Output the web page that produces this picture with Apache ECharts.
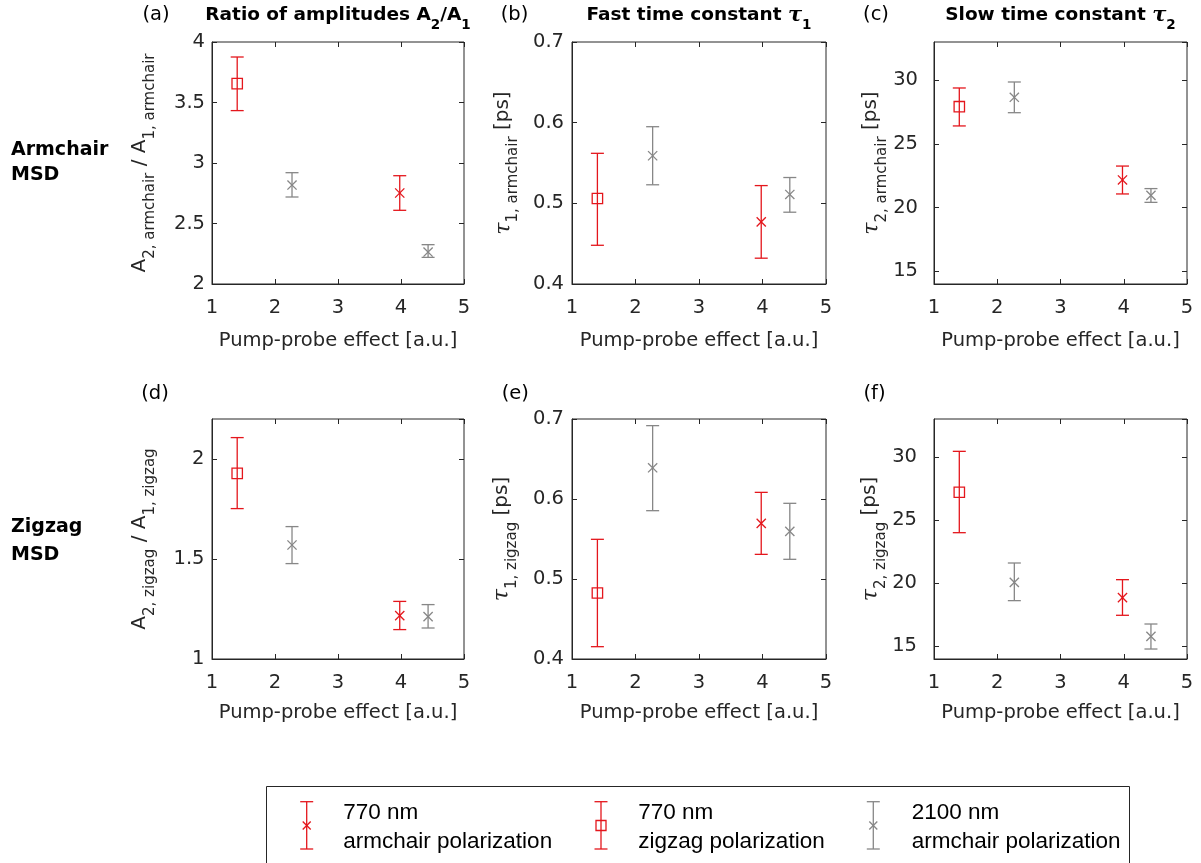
<!DOCTYPE html>
<html><head><meta charset="utf-8">
<script src="https://cdn.jsdelivr.net/npm/echarts@6/dist/echarts.min.js"></script>
<style>html,body{margin:0;padding:0;background:#fff}#chart{width:1201px;height:863px}</style>
</head><body><div id="chart"></div>
<script>
// ---- data (point order: 770 nm zigzag, 2100 nm armchair, 770 nm armchair, 2100 nm armchair)
const pumpProbeX = [1.40, 2.27, 3.98, 4.43];
const pointGroup = ['770zz', '2100ac', '770ac', '2100ac'];

const ratioArmMean = [3.656, 2.818, 2.752, 2.264];
const ratioArmLow  = [3.433, 2.719, 2.609, 2.220];
const ratioArmHigh = [3.876, 2.920, 2.895, 2.325];

const tau1ArmMean = [0.506, 0.559, 0.477, 0.511];
const tau1ArmLow  = [0.448, 0.523, 0.432, 0.489];
const tau1ArmHigh = [0.562, 0.595, 0.522, 0.532];

const tau2ArmMean = [27.92, 28.66, 22.17, 20.96];
const tau2ArmLow  = [26.41, 27.45, 21.07, 20.41];
const tau2ArmHigh = [29.39, 29.86, 23.26, 21.49];

const ratioZzMean = [1.928, 1.570, 1.217, 1.212];
const ratioZzLow  = [1.752, 1.477, 1.147, 1.155];
const ratioZzHigh = [2.107, 1.662, 1.288, 1.272];

const tau1ZzMean = [0.4825, 0.639, 0.5696, 0.5596];
const tau1ZzLow  = [0.4154, 0.5854, 0.5308, 0.5246];
const tau1ZzHigh = [0.5496, 0.6917, 0.6083, 0.5946];

const tau2ZzMean = [27.20, 20.07, 18.86, 15.79];
const tau2ZzLow  = [24.00, 18.62, 17.46, 14.79];
const tau2ZzHigh = [30.44, 21.60, 20.28, 16.77];

const panelLetters = ['(a)', '(b)', '(c)', '(d)', '(e)', '(f)'];
const rowLabels = ['Armchair\nMSD', 'Zigzag\nMSD'];
const legendLine1 = ['770 nm', '770 nm', '2100 nm'];
const legendLine2 = ['armchair polarization', 'zigzag polarization', 'armchair polarization'];
const xAxisTitle = 'Pump-probe effect [a.u.]';

// ---- styles
const RED = 'rgb(228,22,28)';
const GRAY = 'rgb(135,135,135)';
const AX = '#262626';
const SANS = 'DejaVu Sans';

function makeRender(shape, color) {
  return function (params, api) {
    const x = api.value(0), m = api.value(1), lo = api.value(2), hi = api.value(3);
    const c = api.coord([x, m]), pl = api.coord([x, lo]), ph = api.coord([x, hi]);
    const cap = 6.5, sq = 5.2, cr = 4.6;
    const st = { stroke: color, lineWidth: 1.3, fill: null };
    const ch = [
      { type: 'line', shape: { x1: c[0], y1: pl[1], x2: c[0], y2: ph[1] }, style: st },
      { type: 'line', shape: { x1: c[0] - cap, y1: ph[1], x2: c[0] + cap, y2: ph[1] }, style: st },
      { type: 'line', shape: { x1: c[0] - cap, y1: pl[1], x2: c[0] + cap, y2: pl[1] }, style: st }
    ];
    if (shape === 'square') {
      ch.push({ type: 'rect', shape: { x: c[0] - sq, y: c[1] - sq, width: 2 * sq, height: 2 * sq }, style: { stroke: color, lineWidth: 1.3, fill: 'none' } });
    } else {
      ch.push({ type: 'line', shape: { x1: c[0] - cr, y1: c[1] - cr, x2: c[0] + cr, y2: c[1] + cr }, style: st });
      ch.push({ type: 'line', shape: { x1: c[0] - cr, y1: c[1] + cr, x2: c[0] + cr, y2: c[1] - cr }, style: st });
    }
    return { type: 'group', children: ch };
  };
}

const panels = [
  { grid: [212, 42, 252, 242], mean: ratioArmMean, low: ratioArmLow, high: ratioArmHigh, y: [2, 4, 0.5], lm: 7, gap: 54.5, row: 0,
    edge: [true, true], name: '{m|A}{s|2, armchair}{m| / A}{s|1, armchair}' },
  { grid: [572, 42, 254, 242], mean: tau1ArmMean, low: tau1ArmLow, high: tau1ArmHigh, y: [0.4, 0.7, 0.1], lm: 8, gap: 51, row: 0,
    edge: [true, true], name: '{t|τ}{s|1, armchair}{m| [ps]}' },
  { grid: [934, 42, 253, 242], mean: tau2ArmMean, low: tau2ArmLow, high: tau2ArmHigh, y: [14, 33, null], lm: 16, gap: 41.5, row: 0,
    edge: [false, false], name: '{t|τ}{s|2, armchair}{m| [ps]}' },
  { grid: [212, 419, 252, 240], mean: ratioZzMean, low: ratioZzLow, high: ratioZzHigh, y: [1, 2.2, 0.5], lm: 7.5, gap: 54.5, row: 1,
    edge: [true, false], name: '{m|A}{s|2, zigzag}{m| / A}{s|1, zigzag}' },
  { grid: [572, 419, 254, 240], mean: tau1ZzMean, low: tau1ZzLow, high: tau1ZzHigh, y: [0.4, 0.7, 0.1], lm: 8, gap: 52.5, row: 1,
    edge: [true, true], name: '{t|τ}{s|1, zigzag}{m| [ps]}' },
  { grid: [934, 419, 253, 240], mean: tau2ZzMean, low: tau2ZzLow, high: tau2ZzHigh, y: [14, 33, null], lm: 17, gap: 42.5, row: 1,
    edge: [false, false], name: '{t|τ}{s|2, zigzag}{m| [ps]}' }
];

const nameRich = {
  m: { fontSize: 20, fontFamily: SANS, color: AX, verticalAlign: 'top', lineHeight: 20 },
  s: { fontSize: 15, fontFamily: SANS, color: AX, verticalAlign: 'bottom', lineHeight: 28 },
  t: { fontSize: 22, fontFamily: 'DejaVu Serif', fontStyle: 'italic', color: AX, verticalAlign: 'top', lineHeight: 20 }
};

const grids = [], xAxes = [], yAxes = [], series = [];
panels.forEach((p, gi) => {
  grids.push({ left: p.grid[0], top: p.grid[1], width: p.grid[2], height: p.grid[3], show: true,
    borderColor: AX, borderWidth: 1, backgroundColor: 'transparent', containLabel: false, outerBoundsMode: 'none' });
  const tick = { show: true, inside: true, length: 5, lineStyle: { color: AX, width: 1 } };
  xAxes.push({ type: 'value', gridIndex: gi, position: 'bottom', min: 1, max: 5, interval: 1,
    axisLine: { show: true, lineStyle: { color: AX, width: 1 } }, axisTick: tick, splitLine: { show: false },
    axisLabel: { color: AX, fontSize: 19.5, fontFamily: SANS, margin: p.row ? 13.5 : 14, showMinLabel: true, showMaxLabel: true },
    name: xAxisTitle, nameLocation: 'middle', nameGap: p.row ? 44 : 46.5,
    nameTextStyle: { color: AX, fontSize: 19.5, fontFamily: SANS } });
  xAxes.push({ type: 'value', gridIndex: gi, position: 'top', min: 1, max: 5, interval: 1,
    axisLine: { show: false }, axisTick: tick, axisLabel: { show: false }, splitLine: { show: false } });
  const yBase = { type: 'value', gridIndex: gi, min: p.y[0], max: p.y[1] };
  if (p.y[2] !== null) yBase.interval = p.y[2]; else yBase.splitNumber = 4;
  yAxes.push(Object.assign({}, yBase, { position: 'left',
    axisLine: { show: true, lineStyle: { color: AX, width: 1 } }, axisTick: tick, splitLine: { show: false },
    axisLabel: { color: AX, fontSize: 19.5, fontFamily: SANS, margin: p.lm, showMinLabel: p.edge[0], showMaxLabel: p.edge[1],
      formatter: v => String(+v.toFixed(2)) },
    name: p.name, nameLocation: 'middle', nameRotate: 90, nameGap: p.gap,
    nameTextStyle: { color: AX, fontSize: 20, fontFamily: SANS, rich: nameRich } }));
  yAxes.push(Object.assign({}, yBase, { position: 'right',
    axisLine: { show: false }, axisTick: tick, axisLabel: { show: false }, splitLine: { show: false } }));

  const groups = [
    { g: '770ac', shape: 'cross', color: RED, name: '770 nm armchair polarization' },
    { g: '770zz', shape: 'square', color: RED, name: '770 nm zigzag polarization' },
    { g: '2100ac', shape: 'cross', color: GRAY, name: '2100 nm armchair polarization' }
  ];
  groups.forEach(gr => {
    const data = [];
    for (let i = 0; i < pumpProbeX.length; i++) {
      if (pointGroup[i] === gr.g) data.push([pumpProbeX[i], p.mean[i], p.low[i], p.high[i]]);
    }
    series.push({ type: 'custom', name: gr.name, xAxisIndex: gi * 2, yAxisIndex: gi * 2, data,
      encode: { x: 0, y: [1, 2, 3] }, renderItem: makeRender(gr.shape, gr.color), clip: false, silent: true });
  });
});

// ---- titles
const titles = [];
const letterPos = [[156, 15], [514.5, 15], [876, 15], [155, 394], [515.3, 394], [874.5, 394]];
panelLetters.forEach((t, i) => {
  titles.push({ text: t, left: letterPos[i][0], top: letterPos[i][1] - 10, textAlign: 'center', padding: 0,
    textStyle: { fontSize: 19.5, fontFamily: SANS, fontWeight: 'normal', color: '#000', lineHeight: 20 } });
});
const titleRich = {
  b: { fontSize: 18.5, fontFamily: SANS, fontWeight: 'bold', color: '#000', verticalAlign: 'top', lineHeight: 19 },
  s: { fontSize: 13.5, fontFamily: SANS, fontWeight: 'bold', color: '#000', verticalAlign: 'bottom', lineHeight: 27 },
  t: { fontSize: 21, fontFamily: 'DejaVu Serif', fontStyle: 'italic', fontWeight: 'bold', color: '#000', verticalAlign: 'top', lineHeight: 19 }
};
const mainTitles = [
  ['{b|Ratio of amplitudes A}{s|2}{b|/A}{s|1}', 338],
  ['{b|Fast time constant }{t|τ}{s|1}', 699],
  ['{b|Slow time constant }{t|τ}{s|2}', 1060.5]
];
mainTitles.forEach(mt => {
  titles.push({ text: mt[0], left: mt[1], top: 5.5, textAlign: 'center', padding: 0,
    textStyle: { fontSize: 18.5, fontFamily: SANS, fontWeight: 'bold', color: '#000', rich: titleRich } });
});
titles.push({ text: rowLabels[0], left: 11, top: 137, padding: 0,
  textStyle: { fontSize: 19, fontFamily: SANS, fontWeight: 'bold', color: '#000', lineHeight: 25.5 } });
titles.push({ text: rowLabels[1], left: 11, top: 513, padding: 0,
  textStyle: { fontSize: 19, fontFamily: SANS, fontWeight: 'bold', color: '#000', lineHeight: 28 } });

// ---- legend (drawn box with error-bar glyphs)
const legendItems = [
  { x: 306.7, tx: 343.3, color: RED, shape: 'cross' },
  { x: 601, tx: 638.3, color: RED, shape: 'square' },
  { x: 873.3, tx: 911.7, color: GRAY, shape: 'cross' }
];
const graphics = [{ type: 'rect', shape: { x: 266.5, y: 786.5, width: 863, height: 120 },
  style: { fill: '#fff', stroke: AX, lineWidth: 1 }, z: 10 }];
legendItems.forEach((it, i) => {
  const st = { stroke: it.color, lineWidth: 1.3, fill: null };
  const yT = 801.7, yB = 849, yC = 825.5, cap = 6.5;
  graphics.push({ type: 'line', shape: { x1: it.x, y1: yT, x2: it.x, y2: yB }, style: st, z: 11 });
  graphics.push({ type: 'line', shape: { x1: it.x - cap, y1: yT, x2: it.x + cap, y2: yT }, style: st, z: 11 });
  graphics.push({ type: 'line', shape: { x1: it.x - cap, y1: yB, x2: it.x + cap, y2: yB }, style: st, z: 11 });
  if (it.shape === 'square') {
    graphics.push({ type: 'rect', shape: { x: it.x - 5, y: yC - 5, width: 10, height: 10 }, style: { stroke: it.color, lineWidth: 1.3, fill: 'none' }, z: 11 });
  } else {
    graphics.push({ type: 'line', shape: { x1: it.x - 4, y1: yC - 4, x2: it.x + 4, y2: yC + 4 }, style: st, z: 11 });
    graphics.push({ type: 'line', shape: { x1: it.x - 4, y1: yC + 4, x2: it.x + 4, y2: yC - 4 }, style: st, z: 11 });
  }
  graphics.push({ type: 'text', x: it.tx, y: 812.5, z: 11, style: { text: legendLine1[i], fill: '#000',
    font: '22.5px "Liberation Sans"', textAlign: 'left', textVerticalAlign: 'middle' } });
  graphics.push({ type: 'text', x: it.tx, y: 842, z: 11, style: { text: legendLine2[i], fill: '#000',
    font: '22.5px "Liberation Sans"', textAlign: 'left', textVerticalAlign: 'middle' } });
});

const chart = echarts.init(document.getElementById('chart'), null, { renderer: 'canvas' });
chart.setOption({
  backgroundColor: '#fff',
  animation: false,
  title: titles,
  grid: grids,
  xAxis: xAxes,
  yAxis: yAxes,
  series: series,
  graphic: { elements: graphics }
});
</script>
</body></html>
